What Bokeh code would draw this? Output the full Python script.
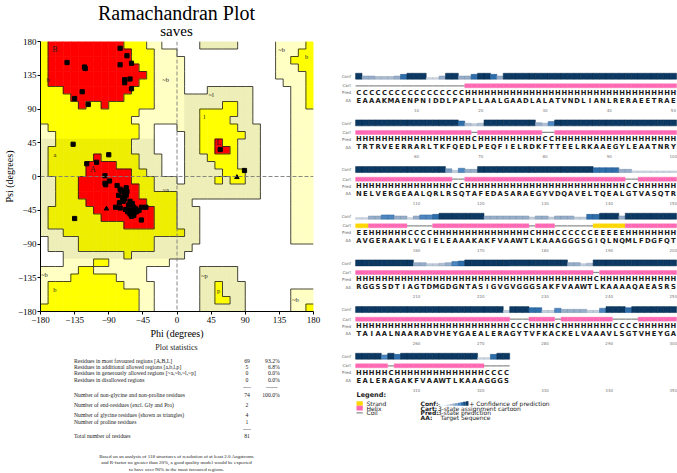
import numpy as np
from bokeh.plotting import figure
from bokeh.models import Range1d, FixedTicker, Span
from bokeh.layouts import row, column
from bokeh.embed import file_html
from bokeh.resources import INLINE
from bokeh.core.properties import value

SERIF = "Liberation Serif"
SANS = "DejaVu Sans"

# ---------------- Ramachandran: region map, 10 degree cells ----------------
# rows: psi 180 (top) -> -180 ; columns: phi -180 -> 180
# R core, Y/y allowed, g/G generously allowed, . disallowed
region_rows = [
    "YRRRRRRRRRRYYYgg.....GGGGG.....ggggY",
    "YRRRRRRRRRRRYYYggg.............gggYY",
    "YRRRRRRRRRRRYYYgggg............ggYYY",
    "YRRRRRRRRRRRRYYgggg............gggYY",
    "YRRRRRRRRRRRRRYgggg............ggggY",
    "YRRRRRRRRRRRRYYgggg.............gggY",
    "YYYRRRRRRRRRYYYgggg...GGGGGG.....ggY",
    "YYYYRRRRRRRYYYYggggGGGGGGGGG.....ggY",
    "YYYYYRYYRYYYYYYggggGGGGGYYGG.....ggY",
    "YYYYYYYYYYYYYggggggGGYYYYYGG.....ggg",
    "YYYYYYYYYYYYgggggggGGYYYYGGG.....ggg",
    "gYYYYYYYYYYYYgg...gGGYYYYYGGG....ggg",
    "ggYYYYYYYYYYYgg....GGYYYYYYGG....ggg",
    "GGyyyyyyyyyyGGG....GGYYRYYGGG....ggg",
    "GyyyyyyyyyyyGGG....GGYYRRYGGG....ggg",
    "GyyyyyyRyyyyyGGG...GGGYYYYGGG....ggg",
    "GyyyyyRRRRyyyGGG...GGGGYYYGGG....ggg",
    "GyyyyyRRRRRRyyGG...GGGGGYYYGG....ggg",
    "GGyyyRRRRRRRyyyGGG.GGGGYGYYGG....ggg",
    "GGyyyRRRRRRRRyyGGGGGGGGGGGGGG....ggg",
    "GGyyyRRRRRRRRyyyyyGGGGGGGGGGG....ggg",
    "GGyyyyRRRRRRRRyyyyGG.............ggg",
    "GyyyyyyRRRRRRRRyyyGGG............ggg",
    "GyyyyyyyRRRRRRRyyyGGG............ggg",
    "GyyyyyyyyyyRRRRyyyGGG............ggg",
    "GGGyyyyyyyyyyyyyyyyGG............ggg",
    ".GGGGyyyyyyyyyyGGGGGG............ggg",
    ".GGGGyyyyyyyyyyGGGGG................",
    "...GGGGGGGGyGGGGGGG.................",
    "...ggggYYgggggggg...................",
    "gggggYYggggggg.......GGGGG..........",
    "ggggYYYYYYgggg.......GGGGG..........",
    "gYYYYYYYYYYgggg......GGYGGG.........",
    "gYYYYYYYYYYYYgg......GGYGGG......ggg",
    "gYYYYYYYYYYYYgg......GGYYGG......ggg",
    "YYYYYYYYYYYYYgg......GGGGGG......ggY",
]
region_fill = {"R": "#ff0000", "Y": "#ffff00", "y": "#eeee00", "g": "#ffffc4", "G": "#eeeeb8"}
region_level = {"R": 3, "Y": 2, "y": 2, "g": 1, "G": 1, ".": 0}

# residues (non-glycine) as squares, glycines as triangles
phi_sq = [-75, -66, -60, -75, -145, -122, -121, -62, -69, -69, -60, -125, -135, -117,
          -137, -90, -106, -119, -95, -89, -95, -94, -79, -75, -73, -70, -77, -67, -72,
          -76, -69, -67, -81, -75, -62, -63, -60, -57, -58, -65, -62, -55, -53, -60,
          -47, -41, -47, -57, -135, -64, -68, -59, -56, -50, -66, -71, 57, 89]
psi_sq = [171, 161, 151, 149, 152, 146, 144, 130, 129, 125, 117, 113, 104, 96,
          43, 29, 19, 17, 1, -6, -9, -11, -12, -17, -19, -21, -25, -25, -28,
          -35, -30, -15, -41, -42, -33, -41, -43, -41, -46, -47, -50, -43, -47, -53,
          -41, -41, -58, -52, -56, -38, -44, -36, -48, -45, -20, -33, 36, 8]
phi_gly = [-93, 79]
psi_gly = [-43, -1]

label_caps = ["B", "A", "L"]
caps_phi = [-161, -111, 55]
caps_psi = [170, 10, 45]
label_small = ["b", "a", "~b", "~a", "~l", "l", "~b", "b", "~b", "b", "~p", "p", "~b"]
small_phi = [-170, -161, -15, -15, 45, 36, 138, 171, -175, -161, 36, 55, 156]
small_psi = [129, 29, 129, -17, 109, 80, 169, 160, -131, -151, -132, -152, -164]

axis_ticks = [-180, -135, -90, -45, 0, 45, 90, 135, 180]

# ---------------- statistics ----------------
stat_labels = ["Residues in most favoured regions  [A,B,L]",
               "Residues in additional allowed regions  [a,b,l,p]",
               "Residues in generously allowed regions  [~a,~b,~l,~p]",
               "Residues in disallowed regions",
               "Number of non-glycine and non-proline residues",
               "Number of end-residues (excl. Gly and Pro)",
               "Number of glycine residues (shown as triangles)",
               "Number of proline residues",
               "Total number of residues"]
stat_counts = ["69", "5", "0", "0", "74", "2", "4", "1", "81"]
stat_pcts = ["93.2%", "6.8%", "0.0%", "0.0%", "100.0%", "", "", "", ""]
footnote = ["Based on an analysis of 118 structures of resolution of at least 2.0 Angstroms",
            "and R-factor no greater than 20%, a good quality model would be expected",
            "to have over 90% in the most favoured regions."]

# ---------------- PSIPRED prediction ----------------
aa_blocks = ["EAAAKMAENPNIDDLPAPLLAALGAADLALATVNDLIANLRERAEETRAE",
             "TRTRVEERRARLTKFQEDLPEQFIELRDKFTTEELRKAAEGYLEAATNRY",
             "NELVERGEAALQRLRSQTAFEDASARAEGYVDQAVELTQEALGTVASQTR",
             "AVGERAAKLVGIELEAAAKAKFVAAWTLKAAAGGGSGIQLNQMLFDGFQT",
             "RGGSSDTIAGTDMGDGNTASIGVGVGGGSAKFVAAWTLKAAAAQAEASRS",
             "TAIAALNAARADVHEYGAEALERAGYTVFKACKELVAAAVLSGTVHEYGA",
             "EALERAGAKFVAAWTLKAAAGGGS"]
pred_blocks = ["CCCCCCCCCC" "CCCCCCCHHH" "HHHHHHHHHH" "HHHHHHHHHH" "HHHHHHHHHH",
               "HHHHHHHHHH" "HHHHHHHHCH" "HHHHHHHHHC" "CHHHHHHHHH" "HHHHHHHHHH",
               "HHHHHHHHHH" "HHHHHCCHHH" "HHHHHHHHHH" "HHHHHHHHHH" "HHCCHHHHHH",
               "EEHHHHHHCC" "CCHHHHHHHH" "HHHHHHHCHH" "HCCCCCCEEE" "EEHHHHHHHH",
               "HHHHHHHHHH" "HHHHHHHHHH" "HHHHHHHHHH" "HHHHHHHCHH" "HHHHHHHHHH",
               "HHHHHHHHHH" "HHHHHHHHHH" "HHHHCCCHHH" "HCHHHHHHHH" "CCCCHHHHHH",
               "HHHHHCHHHH" "HHHHHHHHHH" "CCCC"]
conf_blocks = ["9443334799" "9114994479" "9749999999" "9999999999" "9999999999",
               "9999999999" "9999997323" "9999999943" "6999999999" "9999999999",
               "9999999999" "9999526449" "9999999999" "9999999777" "7441111111",
               "1144664414" "6679999999" "4444444244" "2444227799" "9499999999",
               "9999999994" "4223467999" "9999999999" "9994423999" "9999999999",
               "9999999999" "9999999999" "9992999772" "2644442269" "9979999999",
               "9999" "697" "999999999999" "117" "99"]
row_names = ["Conf", "Cart", "Pred", "AA"]
legend_scale = [0, 1, 2, 3, 4, 5, 6, 7, 8, 9]
conf_colors = ["#e4e9f0", "#d3dbe6", "#c3cfdd", "#aebfd3", "#97aecb", "#7a9cc3",
               "#4d86c0", "#2e6eab", "#164d80", "#0b3963"]
conf_edges = ["#b8c4d2", "#aab8c9", "#9aabbf", "#8a9db4", "#7890ab", "#5f7fa5",
              "#2f6699", "#1d5288", "#0b3460", "#072a4c"]
ss_fill = {"H": "#ff69b4", "E": "#ffd700"}

FRAME_L, FRAME_R = 38, 313   # horizontal extent shared by the left-hand column


def blank(fig):
    fig.outline_line_color = None
    fig.xgrid.visible = False
    fig.ygrid.visible = False
    return fig


# ======================= title strip =======================
pt = blank(figure(width=338, height=36, x_range=Range1d(FRAME_L, FRAME_R), y_range=Range1d(36, 0),
                  x_axis_type=None, y_axis_type=None, output_backend="svg",
                  toolbar_location=None, min_border_left=FRAME_L, min_border_right=338 - FRAME_R,
                  min_border_top=0, min_border_bottom=0))
pt.title = None
pt.text([175], [12.5], text=["Ramachandran Plot"], text_font=value(SERIF), text_font_size="20px",
        text_align="center", text_baseline="middle", text_color="black")
pt.text([175], [30.5], text=["saves"], text_font=value(SERIF), text_font_size="15px",
        text_align="center", text_baseline="middle", text_color="black")

# ======================= Ramachandran figure =======================
p = blank(figure(width=338, height=305, x_range=Range1d(-180, 180), y_range=Range1d(-180, 180),
                 output_backend="svg", toolbar_location=None,
                 min_border_left=FRAME_L, min_border_right=338 - FRAME_R,
                 min_border_top=5, min_border_bottom=30))
p.title = None

grid = [(r + "." * 36)[:36] for r in region_rows]
cell = 10
ql, qr, qt, qb, qc = [], [], [], [], []
for i, r in enumerate(grid):
    for j, ch in enumerate(r):
        if ch in region_fill:
            ql.append(-180 + cell * j)
            qr.append(-180 + cell * (j + 1))
            qt.append(180 - cell * i)
            qb.append(180 - cell * (i + 1))
            qc.append(region_fill[ch])
p.quad(left=ql, right=qr, top=qt, bottom=qb, fill_color=qc, line_color=qc, line_width=0.6)

sx0, sy0, sx1, sy1 = [], [], [], []
for i in range(36):
    for j in range(36):
        a = region_level[grid[i][j]]
        if j < 35 and a != region_level[grid[i][j + 1]]:
            xx = -180 + cell * (j + 1)
            sx0.append(xx); sx1.append(xx)
            sy0.append(180 - cell * i); sy1.append(180 - cell * (i + 1))
        if i < 35 and a != region_level[grid[i + 1][j]]:
            yy = 180 - cell * (i + 1)
            sx0.append(-180 + cell * j); sx1.append(-180 + cell * (j + 1))
            sy0.append(yy); sy1.append(yy)
p.segment(sx0, sy0, sx1, sy1, line_color="#1a1a1a", line_width=0.8)

p.add_layout(Span(location=0, dimension="height", line_color="#7a7a7a", line_dash="4 2", line_width=0.9))
p.add_layout(Span(location=0, dimension="width", line_color="#7a7a7a", line_dash="4 2", line_width=0.9))

p.text(caps_phi, caps_psi, text=label_caps, text_font=value(SERIF), text_font_size="8px",
       text_align="center", text_baseline="middle", text_color="#222222")
p.text(small_phi, small_psi, text=label_small, text_font=value(SERIF), text_font_size="6.5px",
       text_align="center", text_baseline="middle", text_color="#222222")

p.scatter(phi_sq, psi_sq, marker="square", size=4.2, fill_color="black", line_color="black")
p.scatter(phi_gly, psi_gly, marker="triangle", size=4.5, fill_color="black", line_color="black")

p.xaxis.axis_label = "Phi (degrees)"
p.yaxis.axis_label = "Psi (degrees)"
for ax in (p.xaxis[0], p.yaxis[0]):
    ax.ticker = FixedTicker(ticks=axis_ticks)
    ax.major_label_text_font = SERIF
    ax.major_label_text_font_size = "9px"
    ax.major_label_text_color = "black"
    ax.major_label_standoff = 1
    ax.major_tick_out = 3
    ax.major_tick_in = 0
    ax.minor_tick_line_color = None
    ax.axis_line_color = "black"
    ax.major_tick_line_color = "black"
    ax.axis_label_text_font = SERIF
    ax.axis_label_text_font_size = "10px"
    ax.axis_label_text_font_style = "normal"
    ax.axis_label_text_color = "black"
    ax.axis_label_standoff = 0
p.xaxis[0].major_label_standoff = 2
p.xaxis[0].axis_label_standoff = 2

# ======================= statistics figure =======================
ps = blank(figure(width=338, height=132, x_range=Range1d(FRAME_L, FRAME_R), y_range=Range1d(473, 341),
                  x_axis_type=None, y_axis_type=None, output_backend="svg", toolbar_location=None,
                  min_border_left=FRAME_L, min_border_right=338 - FRAME_R,
                  min_border_top=0, min_border_bottom=0))
ps.title = None

stat_y = [360, 366.4, 372.8, 379.2, 394.3, 404.3, 414.3, 421, 435.7]
ps.text([175], [347.3], text=["Plot statistics"], text_font=value(SERIF), text_font_size="8px",
        text_align="center", text_baseline="middle", text_color="#222222")
ps.text([71.7] * len(stat_labels), stat_y, text=stat_labels, text_font=value(SERIF),
        text_font_size="5.7px", text_align="left", text_baseline="middle", text_color="#222222")
ps.text([246] * len(stat_counts), stat_y, text=stat_counts, text_font=value(SERIF),
        text_font_size="5.7px", text_align="center", text_baseline="middle", text_color="#222222")
ps.text([279] * len(stat_pcts), stat_y, text=stat_pcts, text_font=value(SERIF),
        text_font_size="5.7px", text_align="right", text_baseline="middle", text_color="#222222")
ps.text([246, 271, 246], [386.7, 386.7, 428.3], text=["----", "------", "----"], text_font=value(SERIF),
        text_font_size="5.7px", text_align="center", text_baseline="middle", text_color="#222222")
ps.text([175] * 3, [455.7, 462.3, 469.0], text=footnote, text_font=value(SERIF),
        text_font_size="5px", text_align="center", text_baseline="middle", text_color="#222222")

# ======================= PSIPRED figure =======================
pp = blank(figure(width=339, height=473, x_range=Range1d(338, 677), y_range=Range1d(473, 0),
                  x_axis_type=None, y_axis_type=None, output_backend="svg", toolbar_location=None,
                  min_border=0))
pp.title = None
pp.extra_x_ranges = {"res": Range1d(-2.162, 50.64)}

block_pitch = 46.67
cl, cr, ct, cb, cf, ce = [], [], [], [], [], []
hl, hr, ht, hb, hc = [], [], [], [], []
gx0, gx1, gy = [], [], []
px, py, ptxt = [], [], []
ax_, ay, at = [], [], []
tx, ty, tt = [], [], []
lx, ly, lt = [], [], []
for b, (aa, pred, conf) in enumerate(zip(aa_blocks, pred_blocks, conf_blocks)):
    base = 76 + block_pitch * b
    for k, (a, s, c) in enumerate(zip(aa, pred, conf)):
        col = k + 1
        v = int(c)
        cl.append(col - 0.5); cr.append(col + 0.5)
        cb.append(base + 2.7); ct.append(base + 2.7 - (1.0 + 0.55 * v))
        cf.append(conf_colors[v]); ce.append(conf_edges[v])
        if s in ss_fill:
            hl.append(col - 0.5); hr.append(col + 0.5)
            ht.append(base + 7.3); hb.append(base + 11.3)
            hc.append(ss_fill[s])
        else:
            gx0.append(col - 0.5); gx1.append(col + 0.5); gy.append(base + 9.3)
        px.append(col); py.append(base + 16.3); ptxt.append(s)
        ax_.append(col); ay.append(base + 24.0); at.append(a)
    for m in range(1, 6):
        tx.append(10 * m); ty.append(base + 33.8); tt.append(str(50 * b + 10 * m))
    for nme, off in zip(row_names, [0.0, 9.3, 16.3, 24.0]):
        lx.append(350.5); ly.append(base + off); lt.append(nme)

pp.quad(left=cl, right=cr, top=ct, bottom=cb, fill_color=cf, line_color=ce, line_width=0.5,
        x_range_name="res")
pp.segment(gx0, gy, gx1, gy, line_color="#8c8c8c", line_width=1.3, x_range_name="res")
pp.quad(left=hl, right=hr, top=ht, bottom=hb, fill_color=hc, line_color=hc, line_width=0.4,
        x_range_name="res")
pp.text(px, py, text=ptxt, text_font=value(SANS), text_font_style="bold", text_font_size="6.8px",
        text_align="center", text_baseline="middle", text_color="#1a1a1a", x_range_name="res")
pp.text(ax_, ay, text=at, text_font=value(SANS), text_font_style="bold", text_font_size="6.8px",
        text_align="center", text_baseline="middle", text_color="#1a1a1a", x_range_name="res")
pp.text(tx, ty, text=tt, text_font=value(SANS), text_font_size="4px",
        text_align="center", text_baseline="middle", text_color="#777777", x_range_name="res")
pp.text(lx, ly, text=lt, text_font=value(SANS), text_font_size="4px",
        text_align="right", text_baseline="middle", text_color="#666666")

# legend
pp.text([356], [394], text=["Legend:"], text_font=value(SANS), text_font_style="bold",
        text_font_size="6.5px", text_align="left", text_baseline="middle", text_color="#1a1a1a")
pp.quad(left=[356, 356], right=[362.3, 362.3], top=[400.7, 405.3], bottom=[405.3, 410],
        fill_color=[ss_fill["E"], ss_fill["H"]], line_color=None)
pp.segment([356], [412.3], [362.3], [412.3], line_color="#8c8c8c", line_width=1.3)
pp.text([366, 366, 366], [403, 407.5, 412], text=["Strand", "Helix", "Coil"], text_font=value(SANS),
        text_font_size="6px", text_align="left", text_baseline="middle", text_color="#1a1a1a")
pp.text([420, 420, 420, 420], [403, 407.5, 412, 416.7], text=["Conf:", "Cart:", "Pred:", "AA:"],
        text_font=value(SANS), text_font_style="bold", text_font_size="6px", text_align="left",
        text_baseline="middle", text_color="#1a1a1a")
pp.text([437.5, 437.3, 440], [407.5, 412, 416.7],
        text=["3-state assignment cartoon", "3-state prediction", "Target Sequence"],
        text_font=value(SANS), text_font_size="6px", text_align="left", text_baseline="middle",
        text_color="#1a1a1a")
pp.text([437.6, 468.8], [403, 403], text=["-", "+ Confidence of prediction"], text_font=value(SANS),
        text_font_size="6px", text_align="left", text_baseline="middle", text_color="#1a1a1a")
wl = [441 + 2.7 * k for k in range(len(legend_scale))]
pp.quad(left=wl, right=[w + 2.7 for w in wl], bottom=[405.3] * len(wl),
        top=[405.3 - (0.4 + 0.45 * v) for v in legend_scale],
        fill_color=[conf_colors[v] for v in legend_scale], line_color=None)

layout = row(column(pt, p, ps), pp)
open("out.html", "w").write(file_html(layout, INLINE))
